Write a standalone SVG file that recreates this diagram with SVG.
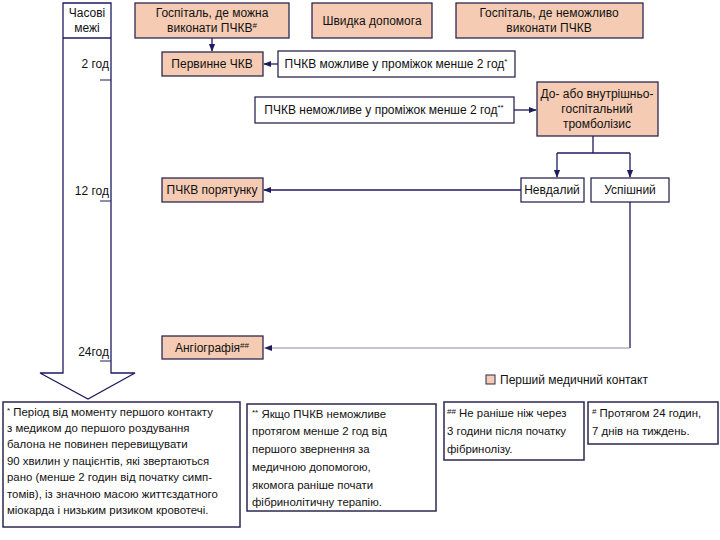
<svg xmlns="http://www.w3.org/2000/svg" width="720" height="540" viewBox="0 0 720 540">
<style>
  text { font-family: "Liberation Sans", Arial, sans-serif; fill: #111; }
  .t12 { font-size: 12px; }
  .t11 { font-size: 11.4px; }
  .sup { font-size: 8px; }
  .peach { fill: #F5CBB3; stroke: #2B2850; stroke-width: 1.3; }
  .white { fill: #FFFFFF; stroke: #2B2850; stroke-width: 1.3; }
  .note { fill: #FFFFFF; stroke: #2B2850; stroke-width: 1.5; }
  .conn { fill: none; stroke: #1E1B5E; stroke-width: 1.3; }
  .thin { fill: none; stroke: #8A8AA8; stroke-width: 1; }
  .tick { stroke: #1E1B5E; stroke-width: 1; }
</style>
<defs>
  <marker id="arr" viewBox="0 0 10 10" refX="9" refY="5" markerWidth="6" markerHeight="6" orient="auto">
    <path d="M0,1 L10,5 L0,9 Z" fill="#1E1B5E"/>
  </marker>
</defs>
<rect width="720" height="540" fill="#FFFFFF"/>

<g id="time-axis">
  <path d="M63,3 H111 V373 H135 L88,399 L40,373 H63 Z" fill="#FFFFFF" stroke="#1E1B5E" stroke-width="1.3"/>
  <line x1="63" y1="38" x2="111" y2="38" stroke="#1E1B5E" stroke-width="1.3"/>
  <text class="t12" x="87" y="17" text-anchor="middle">Часові</text>
  <text class="t12" x="87" y="32" text-anchor="middle">межі</text>
  <text class="t12" x="109" y="68" text-anchor="end">2 год</text>
  <line class="tick" x1="100" y1="80" x2="111" y2="80"/>
  <text class="t12" x="109" y="195" text-anchor="end">12 год</text>
  <line class="tick" x1="100" y1="201" x2="111" y2="201"/>
  <text class="t12" x="109" y="356" text-anchor="end">24год</text>
  <line class="tick" x1="100" y1="361" x2="111" y2="361"/>
</g>

<g id="hosp-pci">
  <rect class="peach" x="135" y="3" width="154" height="35"/>
  <text class="t12" x="212" y="17" text-anchor="middle">Госпіталь, де можна</text>
  <text class="t12" x="212" y="32" text-anchor="middle">виконати ПЧКВ<tspan class="sup" dy="-4">#</tspan></text>
</g>
<g id="ambulance">
  <rect class="peach" x="312" y="3" width="120" height="35"/>
  <text class="t12" x="372" y="25" text-anchor="middle">Швидка допомога</text>
</g>
<g id="hosp-nopci">
  <rect class="peach" x="456" y="3" width="187" height="35"/>
  <text class="t12" x="549" y="17" text-anchor="middle">Госпіталь, де неможливо</text>
  <text class="t12" x="549" y="32" text-anchor="middle">виконати ПЧКВ</text>
</g>

<g id="primary-pci">
  <rect class="peach" x="162" y="52" width="101" height="24"/>
  <text class="t12" x="212" y="68" text-anchor="middle">Первинне ЧКВ</text>
</g>
<g id="pci-possible">
  <rect class="white" x="278" y="51" width="237" height="26"/>
  <text class="t12" x="396" y="68" text-anchor="middle">ПЧКВ можливе у проміжок менше 2 год<tspan class="sup" dy="-4">*</tspan></text>
</g>
<g id="pci-impossible">
  <rect class="white" x="255" y="97" width="259" height="26"/>
  <text class="t12" x="384" y="114" text-anchor="middle">ПЧКВ неможливе у проміжок менше 2 год<tspan class="sup" dy="-4">**</tspan></text>
</g>
<g id="thrombolysis">
  <rect class="peach" x="537" y="82" width="121" height="54"/>
  <text class="t12" x="597" y="98" text-anchor="middle">До- або внутрішньо-</text>
  <text class="t12" x="597" y="113" text-anchor="middle">госпітальний</text>
  <text class="t12" x="597" y="128" text-anchor="middle">тромболізис</text>
</g>
<g id="failed">
  <rect class="white" x="521" y="178" width="63" height="24"/>
  <text class="t12" x="552" y="194" text-anchor="middle">Невдалий</text>
</g>
<g id="success">
  <rect class="white" x="591" y="178" width="78" height="24"/>
  <text class="t12" x="630" y="194" text-anchor="middle">Успішний</text>
</g>
<g id="rescue-pci">
  <rect class="peach" x="162" y="178" width="101" height="24"/>
  <text class="t12" x="212" y="194" text-anchor="middle">ПЧКВ порятунку</text>
</g>
<g id="angiography">
  <rect class="peach" x="162" y="336" width="101" height="23"/>
  <text class="t12" x="212" y="352" text-anchor="middle">Ангіографія<tspan class="sup" dy="-4">##</tspan></text>
</g>

<g id="connectors">
  <line class="conn" x1="212" y1="38" x2="212" y2="51" marker-end="url(#arr)"/>
  <line class="conn" x1="278" y1="64" x2="264" y2="64" marker-end="url(#arr)"/>
  <line class="conn" x1="514" y1="110" x2="536" y2="110" marker-end="url(#arr)"/>
  <path class="conn" d="M593,136 V153"/>
  <line class="conn" x1="557" y1="153" x2="630" y2="153"/>
  <line class="conn" x1="557" y1="153" x2="557" y2="177" marker-end="url(#arr)"/>
  <line class="conn" x1="630" y1="153" x2="630" y2="177" marker-end="url(#arr)"/>
  <line class="conn" x1="521" y1="190" x2="264" y2="190" marker-end="url(#arr)"/>
  <path class="conn" d="M630,202 V348"/>
  <line class="thin" x1="630" y1="348" x2="272" y2="348"/>
  <path d="M264,348 L272,345 L272,351 Z" fill="#1E1B5E"/>
</g>

<g id="legend">
  <rect x="486" y="375" width="9" height="9" fill="#F5CBB3" stroke="#2B2850" stroke-width="1"/>
  <text class="t12" x="500" y="384">Перший медичний контакт</text>
</g>

<g id="note1">
  <rect class="note" x="3" y="402" width="237" height="125"/>
  <text class="t11" x="7" y="416"><tspan class="sup" dy="-3">*</tspan><tspan dy="3"> Період від моменту першого контакту</tspan></text>
  <text class="t11" x="7" y="432">з медиком до першого роздування</text>
  <text class="t11" x="7" y="448">балона не повинен перевищувати</text>
  <text class="t11" x="7" y="465">90 хвилин у пацієнтів, які звертаються</text>
  <text class="t11" x="7" y="481">рано (менше 2 годин від початку симп-</text>
  <text class="t11" x="7" y="498">томів), із значною масою життєздатного</text>
  <text class="t11" x="7" y="514">міокарда і низьким ризиком кровотечі.</text>
</g>
<g id="note2">
  <rect class="note" x="247" y="404" width="189" height="107"/>
  <text class="t11" x="252" y="418"><tspan class="sup" dy="-3">**</tspan><tspan dy="3"> Якщо ПЧКВ неможливе</tspan></text>
  <text class="t11" x="252" y="435">протягом менше 2 год від</text>
  <text class="t11" x="252" y="453">першого звернення за</text>
  <text class="t11" x="252" y="471">медичною допомогою,</text>
  <text class="t11" x="252" y="489">якомога раніше почати</text>
  <text class="t11" x="252" y="506">фібринолітичну терапію.</text>
</g>
<g id="note3">
  <rect class="note" x="444" y="402" width="140" height="58"/>
  <text class="t11" x="447" y="417"><tspan class="sup" dy="-3">##</tspan><tspan dy="3"> Не раніше ніж через</tspan></text>
  <text class="t11" x="447" y="435">3 години після початку</text>
  <text class="t11" x="447" y="453">фібринолізу.</text>
</g>
<g id="note4">
  <rect class="note" x="588" y="402" width="130" height="42"/>
  <text class="t11" x="592" y="417"><tspan class="sup" dy="-3">#</tspan><tspan dy="3"> Протягом 24 годин,</tspan></text>
  <text class="t11" x="592" y="435">7 днів на тиждень.</text>
</g>
</svg>
